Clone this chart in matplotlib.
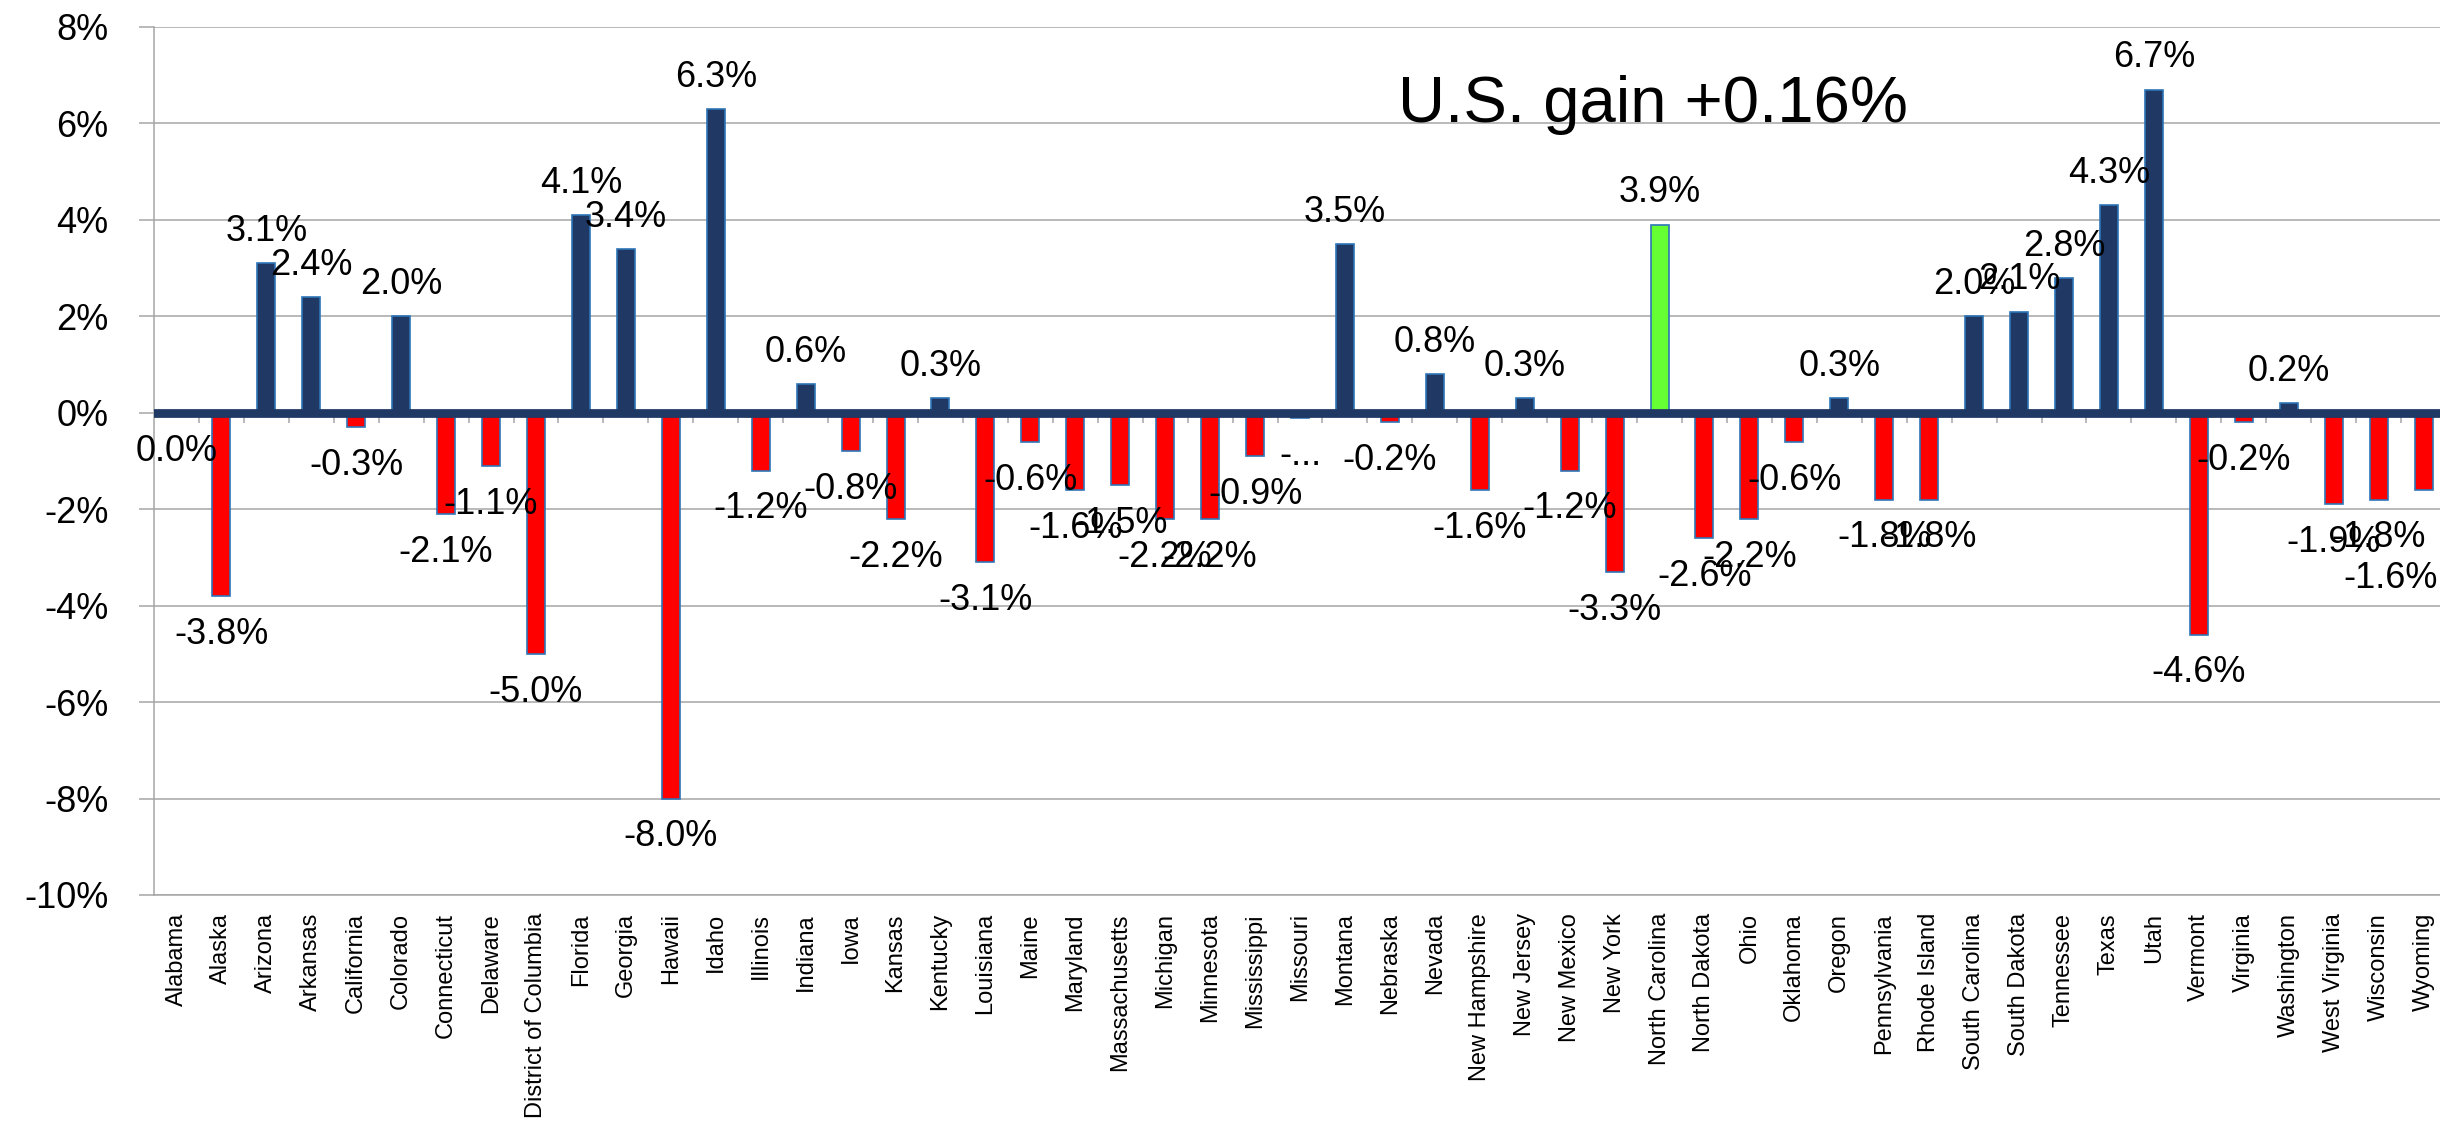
import matplotlib
matplotlib.use("Agg")
import matplotlib.pyplot as plt
from matplotlib.ticker import FuncFormatter
import numpy as np

# change by state, percent
states = ["Alabama", "Alaska", "Arizona", "Arkansas", "California", "Colorado",
          "Connecticut", "Delaware", "District of Columbia", "Florida", "Georgia",
          "Hawaii", "Idaho", "Illinois", "Indiana", "Iowa", "Kansas", "Kentucky",
          "Louisiana", "Maine", "Maryland", "Massachusetts", "Michigan", "Minnesota",
          "Mississippi", "Missouri", "Montana", "Nebraska", "Nevada", "New Hampshire",
          "New Jersey", "New Mexico", "New York", "North Carolina", "North Dakota",
          "Ohio", "Oklahoma", "Oregon", "Pennsylvania", "Rhode Island",
          "South Carolina", "South Dakota", "Tennessee", "Texas", "Utah", "Vermont",
          "Virginia", "Washington", "West Virginia", "Wisconsin", "Wyoming"]
change = [0.0, -3.8, 3.1, 2.4, -0.3, 2.0,
          -2.1, -1.1, -5.0, 4.1, 3.4,
          -8.0, 6.3, -1.2, 0.6, -0.8, -2.2, 0.3,
          -3.1, -0.6, -1.6, -1.5, -2.2, -2.2,
          -0.9, -0.1, 3.5, -0.2, 0.8, -1.6,
          0.3, -1.2, -3.3, 3.9, -2.6,
          -2.2, -0.6, 0.3, -1.8, -1.8,
          2.0, 2.1, 2.8, 4.3, 6.7, -4.6,
          -0.2, 0.2, -1.9, -1.8, -1.6]
# labels that excel cut short
label_override = {"Missouri": "-..."}
highlight = "North Carolina"
us_gain = 0.16

navy = "#203864"
red = "#FF0000"
green = "#66FF33"
edge = "#2E75B6"
grid_gray = "#A6A6A6"

plt.rcParams['font.family'] = ['Liberation Sans', 'DejaVu Sans']

W, H = 2440, 1127
fig = plt.figure(figsize=(W / 100, H / 100), dpi=100)
#plot area in pixels: left 154, right ~2446 (runs off the picture), top 27, bottom 895
ax = fig.add_axes([154 / W, (H - 895) / H, 2292 / W, 868 / H])

x = np.arange(len(states))
colors = []
for s, v in zip(states, change):
    if s == highlight:
        colors.append(green)
    elif v > 0:
        colors.append(navy)
    else:
        colors.append(red)

ax.bar(x, change, width=0.4, color=colors, edgecolor=edge, linewidth=1.2, zorder=3)

#the thick zero line with little ticks hanging below it
ax.vlines(x[:-1] + 0.5, 0, -0.21, color=grid_gray, lw=1.1, zorder=2)
ax.axhline(0, color=navy, lw=6.3, zorder=4)

ax.set_xlim(-0.5, len(states) - 0.5)
ax.set_ylim(-10, 8)
ax.set_yticks(np.arange(-10, 9, 2))
ax.yaxis.set_major_formatter(FuncFormatter(lambda v, p: "%d%%" % round(v)))
ax.yaxis.grid(True, color=grid_gray, lw=1.1)
ax.set_axisbelow(True)

for side in ["top", "right"]:
    ax.spines[side].set_visible(False)
for side in ["left", "bottom"]:
    ax.spines[side].set_color(grid_gray)
    ax.spines[side].set_linewidth(1.1)

ax.tick_params(axis="y", length=10.8, width=1.1, color=grid_gray, pad=22, labelsize=26)
ax.set_xticks(x)
ax.set_xticklabels(states, rotation=90, fontsize=17)
ax.tick_params(axis="x", length=0, pad=13)

labels = []
for xi, v, s in zip(x, change, states):
    txt = label_override.get(s, "%.1f%%" % v)
    if v > 0:
        t = ax.annotate(txt, (xi, v), xytext=(0, 16), textcoords="offset points",
                        ha="center", va="baseline", fontsize=26, zorder=5)
    else:
        t = ax.annotate(txt, (xi, v), xytext=(0, -15), textcoords="offset points",
                        ha="center", va="top", fontsize=26, zorder=5)
    labels.append(t)

fig.text(1398 / W, 1 - 122 / H, "U.S. gain +%.2f%%" % us_gain, fontsize=47,
         ha="left", va="baseline")

#excel keeps labels inside the picture: pull back any that run off the right,
#and if that lands it on its neighbour, drop it just under the neighbour
fig.canvas.draw()
renderer = fig.canvas.get_renderer()
pt = 72 / 100
for i, t in enumerate(labels):
    bb = t.get_window_extent(renderer)
    if bb.x1 <= W - 2:
        continue
    dx = (bb.x1 - (W - 2)) * pt
    t.xyann = (t.xyann[0] - dx, t.xyann[1])
    if i > 0:
        bb = t.get_window_extent(renderer)
        prev = labels[i - 1].get_window_extent(renderer)
        if bb.overlaps(prev):
            dy = (bb.y1 - (prev.y0 - 6)) * pt
            t.xyann = (t.xyann[0], t.xyann[1] - dy)

fig.savefig("out.png", dpi=100)
